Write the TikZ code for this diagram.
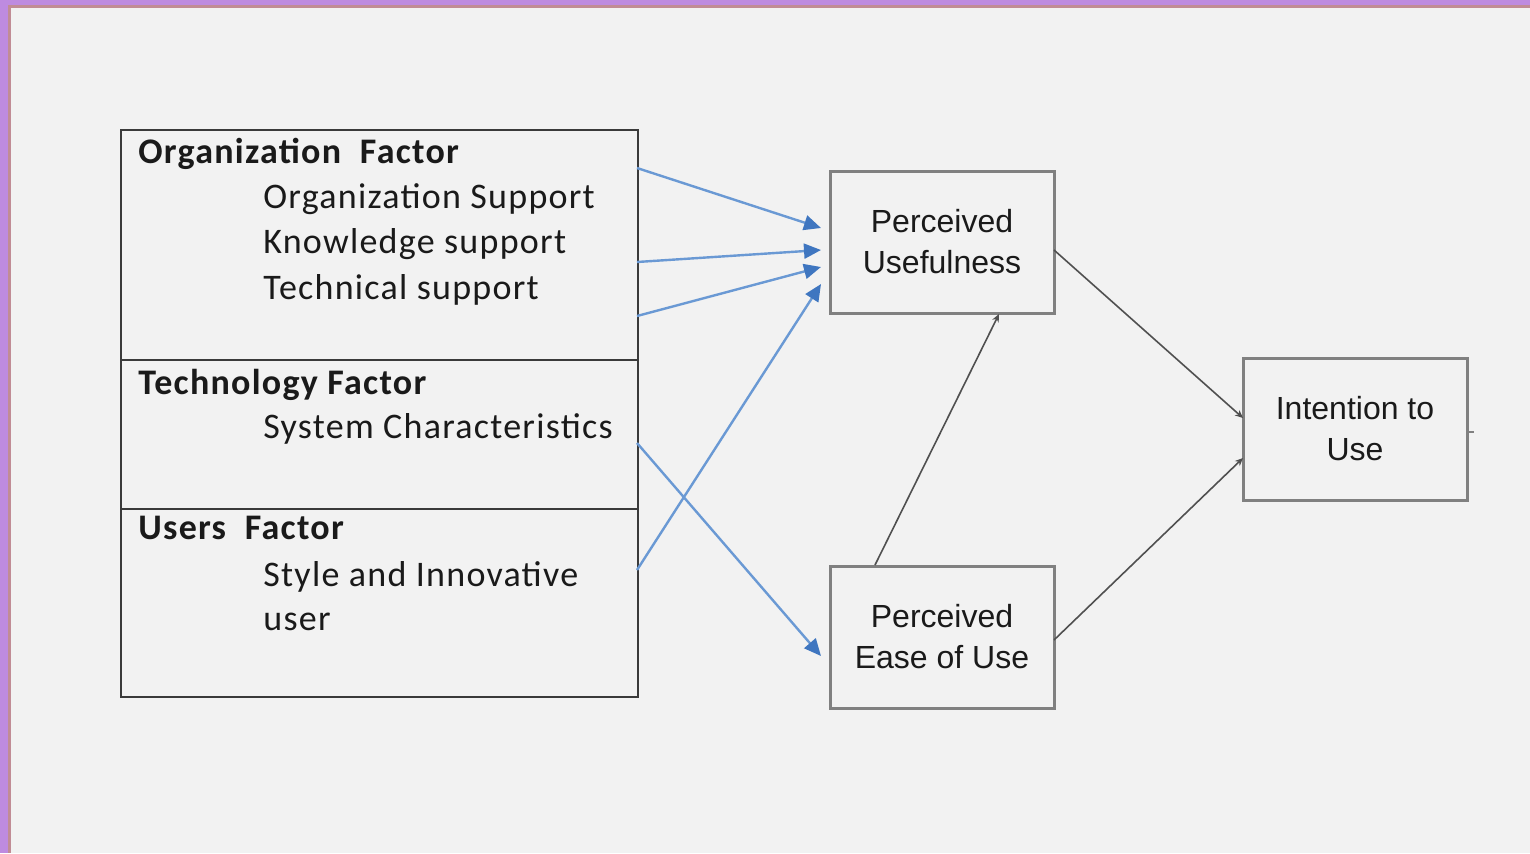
\documentclass[tikz,border=0pt]{standalone}
\usepackage{fontspec}
\setmainfont{Carlito}[LetterSpace=3.5]
\newfontfamily\arialf{Liberation Sans}
\usetikzlibrary{arrows.meta}
\definecolor{bg}{HTML}{F2F2F2}
\definecolor{purp}{HTML}{BE8BE0}
\definecolor{rosy}{HTML}{C18C95}
\definecolor{leftline}{HTML}{3A3A3A}
\definecolor{boxline}{HTML}{808080}
\definecolor{bluearr}{HTML}{6A99D4}
\definecolor{bluehead}{HTML}{3F76C0}
\definecolor{txt}{HTML}{1A1A1A}
\definecolor{darkline}{HTML}{505050}
\tikzset{
  leftbox/.style={draw=leftline, line width=1.2pt, anchor=north west, minimum width=258.5pt, inner sep=0pt},
  headtxt/.style={anchor=base west, font=\fontsize{18}{20}\selectfont\bfseries, text=txt, inner sep=0pt},
  itemtxt/.style={anchor=base west, font=\fontsize{18}{20}\selectfont, text=txt, inner sep=0pt},
  rbox/.style={draw=boxline, line width=1.5pt, minimum width=112pt, minimum height=71pt, align=center, font=\arialf\fontsize{16}{20.5}\selectfont, text=txt, inner sep=0pt},
  bluea/.style={draw=bluearr, line width=1.2pt, -{Triangle[length=8.5pt,width=7.5pt,color=bluehead]}},
  darka/.style={draw=darkline, line width=0.8pt, -{Stealth[length=4pt,width=3.5pt]}, color=darkline},
}
\begin{document}
\begin{tikzpicture}[x=0.5pt,y=-0.5pt]
\useasboundingbox (0,0) rectangle (1530,853);
\fill[bg] (0,0) rectangle (1530,853);
\fill[purp] (0,0) rectangle (8,853);
\fill[purp] (0,0) rectangle (1530,5);
\fill[rosy] (8,5) rectangle (11,853);
\fill[rosy] (8,5) rectangle (1530,8);

% left stacked boxes
\node[leftbox, minimum height=115pt] (org) at (120,129) {};
\node[leftbox, minimum height=74.5pt] (tech) at (120,359) {};
\node[leftbox, minimum height=94pt] (users) at (120,508) {};

\node[headtxt] (orgh) at (138,163) {Organization\ \ Factor};
\node[itemtxt] (os) at (263,208) {Organization Support};
\node[itemtxt] (ks) at (263,253) {Knowledge support};
\node[itemtxt] (ts) at (263,299) {Technical support};
\node[headtxt] (techh) at (138,394) {Technology Factor};
\node[itemtxt] (sc) at (263,438) {System Characteristics};
\node[headtxt] (ush) at (138,539) {Users\ \ Factor};
\node[itemtxt] (si) at (263,586) {Style and Innovative};
\node[itemtxt] (us) at (263,630) {user};

% right boxes
\node[rbox] (pu) at (942,242) {Perceived\\Usefulness};
\node[rbox] (peou) at (942,637) {Perceived\\Ease of Use};
\node[rbox] (itu) at (1355,429) {Intention to\\Use};

% connector end points
\coordinate (s1) at (637,168);
\coordinate (s2) at (637,262);
\coordinate (s3) at (637,316);
\coordinate (s4) at (637,570);
\coordinate (s5) at (637,443);
\coordinate (e1) at (821,228);
\coordinate (e2) at (821,250);
\coordinate (e3) at (821,267);
\coordinate (e4) at (821,284);
\coordinate (e5) at (821,656);

\draw[bluea] (s1) -- (e1);
\draw[bluea] (s2) -- (e2);
\draw[bluea] (s3) -- (e3);
\draw[bluea] (s4) -- (e4);
\draw[bluea] (s5) -- (e5);

\coordinate (pur) at (1054,250);
\coordinate (itu1) at (1243,418);
\coordinate (peour) at (1054,640);
\coordinate (itu2) at (1243,458);
\coordinate (peout) at (875,565);
\coordinate (pub) at (999,314);
\draw[darka] (pur) -- (itu1);
\draw[darka] (peour) -- (itu2);
\draw[darka] (peout) -- (pub);

\coordinate (stub) at (1474,432);
\draw[draw=boxline, line width=0.6pt] (itu.east |- stub) -- (stub);
\end{tikzpicture}
\end{document}
